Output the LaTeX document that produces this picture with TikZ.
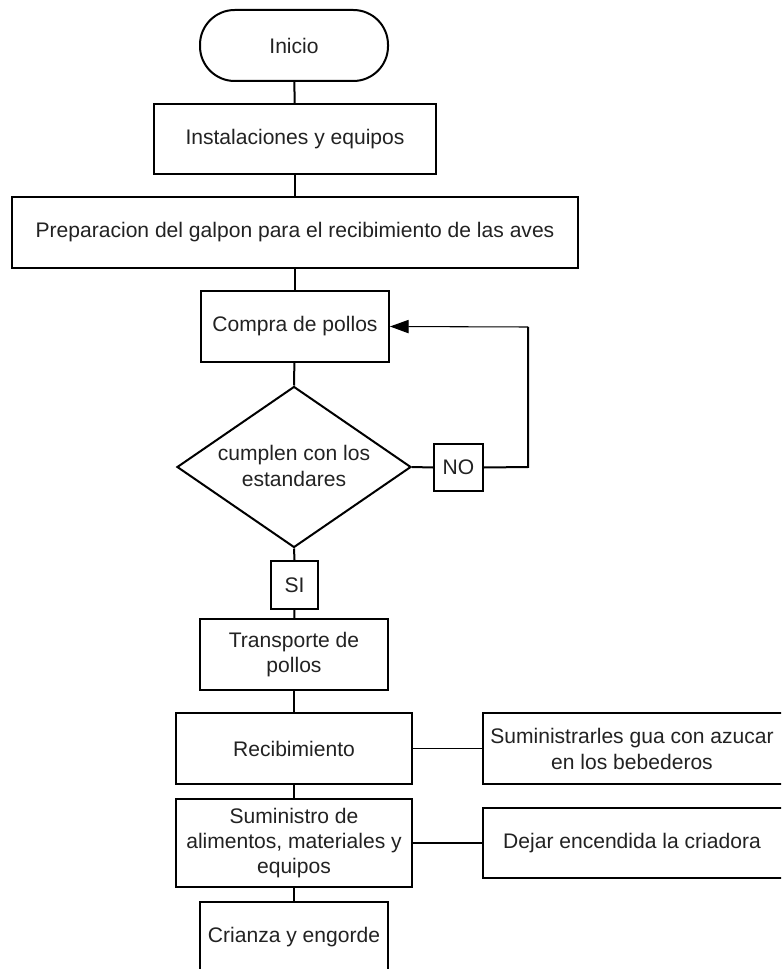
\documentclass[tikz,border=0pt]{standalone}
\usepackage{fontspec}
\setmainfont{Liberation Sans}
\usetikzlibrary{shapes.geometric,arrows.meta}
\definecolor{txt}{HTML}{222222}
\tikzset{
  x=0.75pt,y=-0.75pt,
  base/.style={draw=black,line width=1.5pt,text=txt,align=center,inner sep=0pt,
    font=\fontsize{15.8}{18.9}\selectfont},
  box/.style={base,rectangle},
  conn/.style={line width=1.5pt},
  thinconn/.style={line width=0.8pt},
  lbl/.style={text=txt,align=center,inner sep=0pt,font=\fontsize{15.8}{18.9}\selectfont}
}
\begin{document}
\begin{tikzpicture}
\useasboundingbox (0,0) rectangle (781,969);
\clip (0,0) rectangle (781,969);
\fill[white] (0,0) rectangle (781,969);
\node[box,rounded corners=26pt,minimum width={188*0.75pt},minimum height={71*0.75pt}] (inicio) at (294,45.5) {Inicio};
\node[box,minimum width={282*0.75pt},minimum height={70*0.75pt}] (inst) at (295,139) {Instalaciones y equipos};
\node[box,minimum width={566*0.75pt},minimum height={71*0.75pt}] (prep) at (295,232.5) {Preparacion del galpon para el recibimiento de las aves};
\node[box,minimum width={188*0.75pt},minimum height={71*0.75pt}] (compra) at (295,326.5) {Compra de pollos};
\node[base,diamond,minimum width={234*0.75pt},minimum height={161*0.75pt}] (dec) at (294,467) {};
\node[lbl] (dectxt) at (294,466) {cumplen con los\\estandares};
\node[box,minimum width={49*0.75pt},minimum height={47*0.75pt}] (no) at (458.5,467.5) {NO};
\node[box,minimum width={47*0.75pt},minimum height={48*0.75pt}] (si) at (294.5,585) {SI};
\node[box,minimum width={188*0.75pt},minimum height={71*0.75pt}] (transp) at (294,654.5) {Transporte de\\pollos};
\node[box,minimum width={236*0.75pt},minimum height={71*0.75pt}] (recib) at (294,748.5) {Recibimiento};
\node[box,minimum width={306*0.75pt},minimum height={71*0.75pt},anchor=west] (agua) at (482,748.5) {};
\node[lbl] (aguatxt) at (632,749) {Suministrarles gua con azucar\\en los bebederos};
\node[box,minimum width={236*0.75pt},minimum height={88*0.75pt}] (sumin) at (294,843) {Suministro de\\alimentos, materiales y\\equipos};
\node[box,minimum width={306*0.75pt},minimum height={70*0.75pt},anchor=west] (dejar) at (482,843) {};
\node[lbl] (dejartxt) at (632,843) {Dejar encendida la criadora};
\node[box,minimum width={188*0.75pt},minimum height={71*0.75pt}] (crianza) at (294,937.5) {Crianza y engorde};
\coordinate (r1) at (528,467);
\coordinate (r2) at (528,327);
\draw[conn] (inicio) -- (inst);
\draw[conn] (inst) -- (prep);
\draw[conn] (prep.south -| compra) -- (compra);
\draw[conn] (compra) -- (dec.north);
\draw[conn] (dec.east) -- (no.west);
\draw[conn] (no.east) -- (r1) -- (r2);
\draw[thinconn,-{Triangle[length=14pt,width=10pt]}] (r2) -- (compra.east);
\draw[conn] (dec.south) -- (si.north);
\draw[conn] (si) -- (transp);
\draw[conn] (transp) -- (recib);
\draw[thinconn] (recib.east) -- (agua.west);
\draw[conn] (recib) -- (sumin);
\draw[conn] (sumin.east) -- (dejar.west);
\draw[conn] (sumin) -- (crianza);
\end{tikzpicture}
\end{document}
